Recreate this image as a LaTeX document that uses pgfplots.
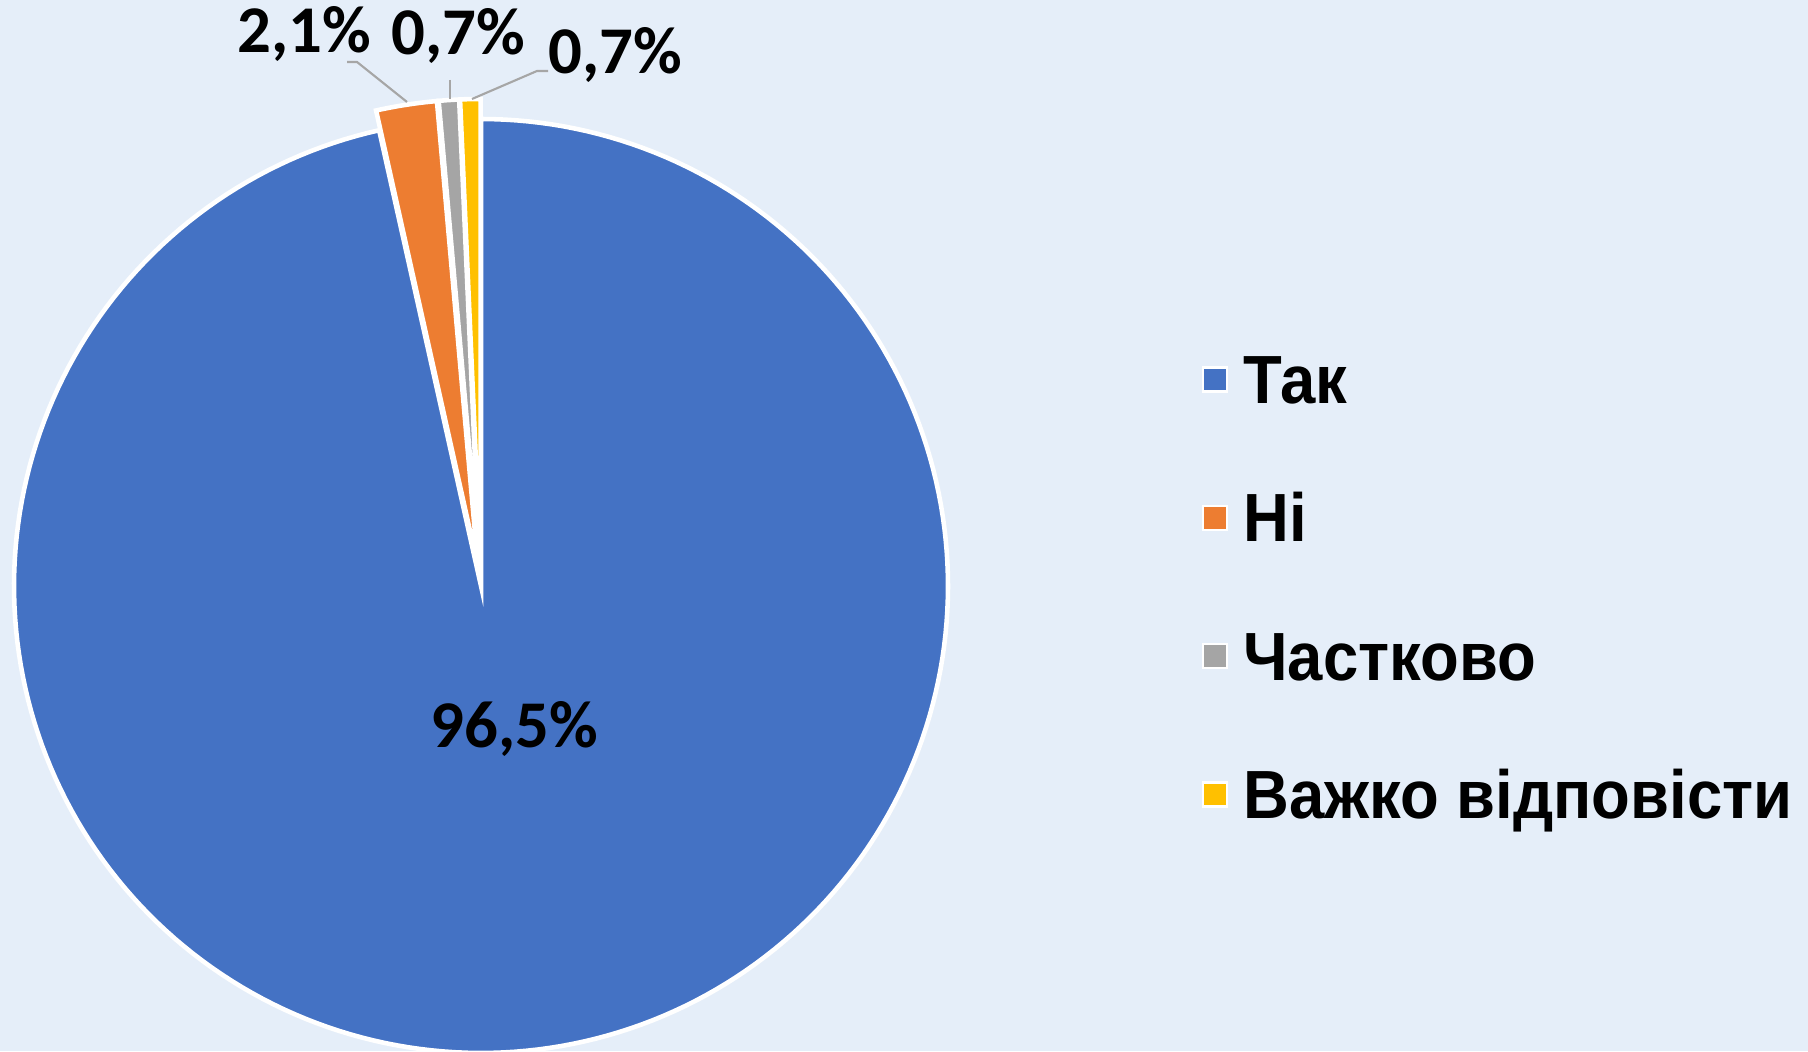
\documentclass[border=0pt]{standalone}
\usepackage{pgfplots}
\pgfplotsset{compat=1.18}
\usepackage{fontspec}
\setmainfont{Liberation Sans}
\newfontfamily\lblfont{Carlito}
\newfontfamily\legfont{Liberation Sans}[FakeStretch=0.93]
\definecolor{bgblue}{RGB}{229,238,249}
\definecolor{cTak}{HTML}{4472C4}
\definecolor{cNi}{HTML}{ED7D31}
\definecolor{cCh}{HTML}{A5A5A5}
\definecolor{cVa}{HTML}{FFC000}
\definecolor{leader}{HTML}{A6A6A6}
% values (percent)
\def\vTak{96.5}\def\vNi{2.1}\def\vCh{0.7}\def\vVa{0.7}
% geometry (pixel units)
\def\R{467}\def\cx{481}\def\cy{465}\def\ex{20}
\pgfmathsetmacro\aT{90-3.6*\vTak}
\pgfmathsetmacro\aN{\aT-3.6*\vNi}
\pgfmathsetmacro\aC{\aN-3.6*\vCh}
\pgfmathsetmacro\aV{\aC-3.6*\vVa}
\pgfmathsetmacro\nx{\cx+\ex*cos((\aN+\aT)/2)}\pgfmathsetmacro\ny{\cy+\ex*sin((\aN+\aT)/2)}
\pgfmathsetmacro\chx{\cx+\ex*cos((\aC+\aN)/2)}\pgfmathsetmacro\chy{\cy+\ex*sin((\aC+\aN)/2)}
\pgfmathsetmacro\vx{\cx+\ex*cos((\aV+\aC)/2)}\pgfmathsetmacro\vy{\cy+\ex*sin((\aV+\aC)/2)}
\begin{document}
\begin{tikzpicture}
\fill[bgblue] (0,0) rectangle (18.08cm,10.51cm);
\useasboundingbox (0,0) rectangle (18.08cm,10.51cm);
\begin{axis}[
  at={(0,0)}, anchor=south west,
  width=18.08cm, height=10.51cm, scale only axis,
  xmin=0, xmax=1808, ymin=0, ymax=1051,
  hide axis, clip=true,
  legend cell align=left,
  legend image code/.code={\draw[#1, line width=0.6pt] (0cm,-0.12cm) rectangle (0.24cm,0.12cm);},
  legend style={draw=none, fill=none, at={(axis cs:1191,464)}, anchor=west,
    font=\legfont\bfseries\fontsize{19.4pt}{21pt}\selectfont,
    nodes={inner sep=0pt, text height=0.48cm, text depth=0cm},
    row sep=0.903cm,
    /tikz/every odd column/.append style={column sep=0.15cm}},
]
\addplot[fill=cTak, draw=white, line width=1.3pt, domain=\aT:90, samples=240, variable=\t]
  ({\cx+\R*cos(\t)},{\cy+\R*sin(\t)}) -- (axis cs:\cx,\cy) -- cycle;
\addlegendentry{Так}
\addplot[fill=cNi, draw=white, line width=1.3pt, domain=\aN:\aT, samples=12, variable=\t]
  ({\nx+\R*cos(\t)},{\ny+\R*sin(\t)}) -- (axis cs:\nx,\ny) -- cycle;
\addlegendentry{Ні}
\addplot[fill=cCh, draw=white, line width=1.3pt, domain=\aC:\aN, samples=6, variable=\t]
  ({\chx+\R*cos(\t)},{\chy+\R*sin(\t)}) -- (axis cs:\chx,\chy) -- cycle;
\addlegendentry{Частково}
\addplot[fill=cVa, draw=white, line width=1.3pt, domain=\aV:\aC, samples=6, variable=\t]
  ({\vx+\R*cos(\t)},{\vy+\R*sin(\t)}) -- (axis cs:\vx,\vy) -- cycle;
\addlegendentry{Важко відповісти}
% leader lines
\draw[leader, line width=0.6pt] (axis cs:347,989) -- (axis cs:357,989) -- (axis cs:407,949);
\draw[leader, line width=0.6pt] (axis cs:450,971) -- (axis cs:450,952);
\draw[leader, line width=0.6pt] (axis cs:548,980) -- (axis cs:537,980) -- (axis cs:472,952);
% data labels
\begin{scope}[every node/.style={font=\lblfont\bfseries\fontsize{19pt}{20pt}\selectfont, inner sep=0pt}]
\node at (axis cs:304,1017) {2,1\%};
\node at (axis cs:458,1015) {0,7\%};
\node at (axis cs:615,996) {0,7\%};
\node at (axis cs:514,322) {96,5\%};
\end{scope}
\end{axis}
\end{tikzpicture}
\end{document}
